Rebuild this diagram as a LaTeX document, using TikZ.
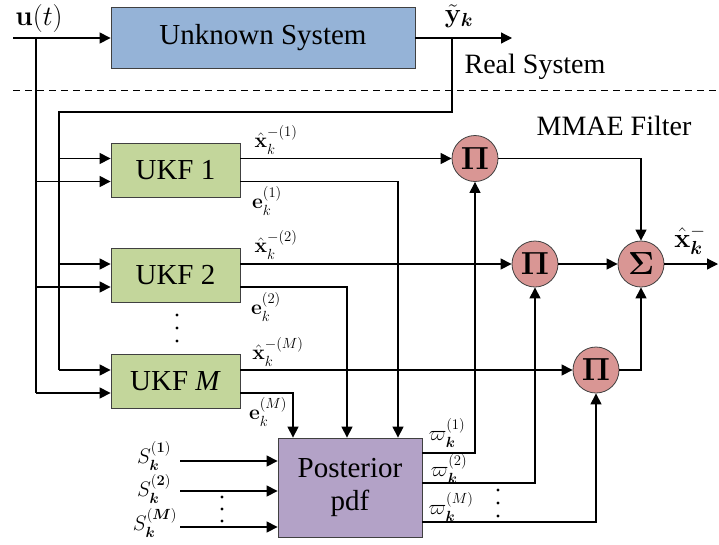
\RequirePackage{fix-cm}
\documentclass[tikz,border=0pt]{standalone}
\usepackage{amsmath,bm}
\usepackage[no-math]{fontspec}
\setmainfont{Liberation Serif}
\usepackage{tikz}
\usetikzlibrary{arrows.meta,calc}

\definecolor{sysblue}{RGB}{149,179,215}
\definecolor{ukfgreen}{RGB}{195,214,155}
\definecolor{pdfpurple}{RGB}{179,162,199}
\definecolor{mulred}{RGB}{217,150,148}

\begin{document}
\begin{tikzpicture}[->,>={Triangle[length=11pt,width=11pt]},x=1pt,y=-1pt,
                    line width=1.2pt]
  \tikzstyle{block}=[draw=black!75,line width=0.8pt,font=\fontsize{29}{33}\selectfont]
  \tikzstyle{filter}=[block,fill=ukfgreen,minimum width=129pt,minimum height=54pt]
  \tikzstyle{mult}=[circle,draw=black!75,line width=0.8pt,fill=mulred,
                    minimum size=46pt,inner sep=0pt,font=\fontsize{32}{34}\selectfont]
  \tikzstyle{lbl}=[font=\fontsize{21}{23}\selectfont,inner sep=0pt]
  \tikzstyle{big}=[font=\fontsize{28}{31}\selectfont,inner sep=0pt]
  \useasboundingbox (0,0) rectangle (719,544);

  % blocks
  \node[block,fill=sysblue,minimum width=304pt,minimum height=61pt] (U) at (263,38) {Unknown System};
  \node[filter] (K1) at (175.5,170)   {UKF 1};
  \node[filter] (K2) at (175.5,275.5) {UKF 2};
  \node[filter] (KM) at (175.5,381.5) {UKF \textit{M}};
  \node[block,fill=pdfpurple,minimum width=144pt,minimum height=99pt,align=center]
        (P) at (350,487.5) {Posterior\\pdf};
  \node[mult] (P1) at (475,158.5) {$\mathbf{\Pi}$};
  \node[mult] (P2) at (535,264)   {$\mathbf{\Pi}$};
  \node[mult] (P3) at (596,370)   {$\mathbf{\Pi}$};
  \node[mult] (S)  at (641,264)   {$\mathbf{\Sigma}$};

  % free ends and branch points
  \coordinate (u) at (13,38);
  \coordinate (a) at (36,38);
  \coordinate (b) at (452,38);
  \coordinate (y) at (512,38);
  \coordinate (c) at (59,112);
  \coordinate (o) at (718,264);
  \coordinate (s1) at (180,461);
  \coordinate (s2) at (180,491);
  \coordinate (s3) at (180,527);
  \coordinate (d1) at (13,90);
  \coordinate (d2) at (719,90);

  \draw[-,dash pattern=on 7pt off 5pt,line width=0.8pt] (d1) -- (d2);

  \draw (u) -- (U);
  \draw (U) -- (y);

  \foreach \k in {1,2,M}{
    \coordinate (K\k i) at ($(K\k.west)+(0,-11.5)$);
    \coordinate (K\k j) at ($(K\k.west)+(0,11.5)$);
    \draw (c |- K\k i) -- (K\k i);
    \draw (a |- K\k j) -- (K\k j);
  }
  \draw[-] (a) -- (a |- KMj);
  \draw[-] (b) |- (c) -- (c |- KMi);

  % estimates
  \draw (K1.east |- K1i) -- (P1);
  \draw (K2.east |- K2i) -- (P2);
  \draw (KM.east |- KMi) -- (P3);

  % residuals
  \draw (K1.east |- K1j) -| ($(P.north)+(48,0)$);
  \draw (K2.east |- K2j) -| ($(P.north)+(-3,0)$);
  \draw (KM.east |- KMj) -| ($(P.north)+(-57,0)$);

  \draw (s1) -- (P.west |- s1);
  \draw (s2) -- (P.west |- s2);
  \draw (s3) -- (P.west |- s3);

  % weights
  \draw ($(P.east)+(0,-34.5)$) -| (P1);
  \draw ($(P.east)+(0,-4.5)$) -| (P2);
  \draw ($(P.east)+(0,34.5)$) -| (P3);

  \draw (P1) -| (S);
  \draw (P2) -- (S);
  \draw (P3) -| (S);
  \draw (S) -- (o);

  \foreach \y in {315,328,341} \fill (177,\y) circle (1.7pt);
  \foreach \y in {497,509,521} \fill (222,\y) circle (1.7pt);
  \foreach \y in {490,503,516} \fill (498,\y) circle (1.7pt);

  % labels
  \node[big] (ut) at (39,18) {$\mathbf{u}(t)$};
  \node[lbl,font=\fontsize{27}{29}\selectfont] (yk) at (459,16) {$\tilde{\mathbf{y}}_{\bm k}$};
  \node[big] (rs) at (535,67)  {Real System};
  \node[big] (mf) at (614,126) {MMAE Filter};
  \node[lbl] (x1) at (276,140) {$\hat{\mathbf{x}}_k^{-(1)}$};
  \node[lbl] (e1) at (267,201) {$\mathbf{e}_k^{(1)}$};
  \node[lbl] (x2) at (276,245) {$\hat{\mathbf{x}}_k^{-(2)}$};
  \node[lbl] (e2) at (266,307) {$\mathbf{e}_k^{(2)}$};
  \node[lbl] (xM) at (278,352) {$\hat{\mathbf{x}}_k^{-(M)}$};
  \node[lbl] (eM) at (268,412) {$\mathbf{e}_k^{(M)}$};
  \node[lbl] (S1) at (154,456) {$S_{\bm k}^{(\mathbf{1})}$};
  \node[lbl] (S2) at (154,489) {$S_{\bm k}^{(\mathbf{2})}$};
  \node[lbl] (SM) at (155,523) {$S_{\bm k}^{(\bm M)}$};
  \node[lbl] (w1) at (447,433) {$\varpi_{\bm k}^{(1)}$};
  \node[lbl] (w2) at (449,469) {$\varpi_{\bm k}^{(2)}$};
  \node[lbl] (wM) at (451,507) {$\varpi_{\bm k}^{(M)}$};
  \node[lbl,font=\fontsize{27}{29}\selectfont] (xk) at (690,240) {$\hat{\mathbf{x}}_{\bm k}^{-}$};
\end{tikzpicture}
\end{document}
